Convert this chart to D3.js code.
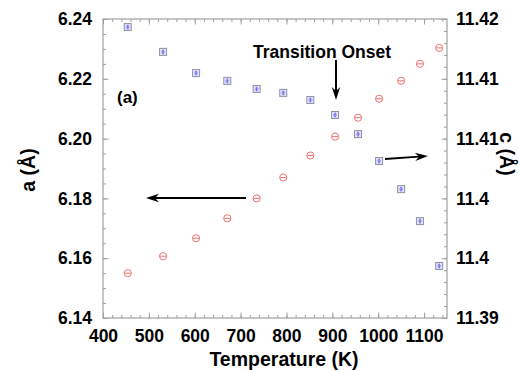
<!DOCTYPE html>
<html>
<head>
<meta charset="utf-8">
<script src="https://cdn.jsdelivr.net/npm/d3@7"></script>
<style>
  body { margin: 0; background: #fff; }
  text { font-family: "Liberation Sans", Arial, sans-serif; font-weight: bold; fill: #000; }
</style>
</head>
<body>
<svg id="chart" width="519" height="371"></svg>
<script>
// temperature (K) of each measurement
var temps = [454, 531, 603, 671, 735, 793, 852, 906, 956, 1002, 1050, 1091, 1133];
// lattice parameter a (left axis)
var aValues = [6.2373, 6.2290, 6.2219, 6.2193, 6.2166, 6.2153, 6.2129, 6.2079, 6.2015, 6.1925, 6.1831, 6.1724, 6.1574];
// lattice parameter c (right axis)
var cValues = [11.3945, 11.3962, 11.3980, 11.4000, 11.4020, 11.4041, 11.4063, 11.4082, 11.4101, 11.4120, 11.4138, 11.4155, 11.4171];

var xTicks = [400, 500, 600, 700, 800, 900, 1000, 1100];
var aTicks = [6.14, 6.16, 6.18, 6.20, 6.22, 6.24];
var cTicks = [11.39, 11.396, 11.402, 11.408, 11.414, 11.42];

var svg = d3.select("svg#chart");
var margin = { top: 19, right: 72, bottom: 53, left: 103 };
var width = +svg.attr("width") - margin.left - margin.right;
var height = +svg.attr("height") - margin.top - margin.bottom;

var g = svg.append("g")
  .attr("transform", "translate(" + margin.left + "," + margin.top + ")");

var x = d3.scaleLinear().domain([400, 1150]).range([0, width]);
var yA = d3.scaleLinear().domain([6.14, 6.24]).range([height, 0]);
var yC = d3.scaleLinear().domain([11.39, 11.42]).range([height, 0]);

var xMinor = d3.range(400, 1150, 20);
var aMinor = d3.range(0, 21).map(function(i) { return 6.14 + i * 0.005; });
var cMinor = d3.range(0, 26).map(function(i) { return 11.39 + i * 0.0012; });

var axisColor = "#a0a0a0";

function tickAxis(axisFn, scale, values, len, tx, ty) {
  var ax = g.append("g")
    .attr("class", "ticks")
    .attr("transform", "translate(" + tx + "," + ty + ")")
    .call(axisFn(scale).tickValues(values).tickSize(-len).tickFormat(""));
  ax.select(".domain").remove();
  ax.selectAll("line").attr("stroke", axisColor);
}

// frame
g.append("rect")
  .attr("width", width)
  .attr("height", height)
  .attr("fill", "none")
  .attr("stroke", axisColor)
  .attr("stroke-width", 1.2);

// minor and major ticks, pointing inward on all four sides
tickAxis(d3.axisBottom, x, xMinor, 3, 0, height);
tickAxis(d3.axisBottom, x, xTicks, 5.5, 0, height);
tickAxis(d3.axisTop, x, xMinor, 3, 0, 0);
tickAxis(d3.axisTop, x, xTicks, 5.5, 0, 0);
tickAxis(d3.axisLeft, yA, aMinor, 3, 0, 0);
tickAxis(d3.axisLeft, yA, aTicks, 5.5, 0, 0);
tickAxis(d3.axisRight, yC, cMinor, 3, width, 0);
tickAxis(d3.axisRight, yC, cTicks, 5.5, width, 0);

// tick labels
var xLab = g.append("g")
  .attr("transform", "translate(0," + height + ")")
  .call(d3.axisBottom(x).tickValues(xTicks).tickSize(0).tickPadding(12).tickFormat(d3.format("d")));
var aLab = g.append("g")
  .call(d3.axisLeft(yA).tickValues(aTicks).tickSize(0).tickPadding(11).tickFormat(d3.format(".2f")));
var cLab = g.append("g")
  .attr("transform", "translate(" + width + ",0)")
  .call(d3.axisRight(yC).tickValues(cTicks).tickSize(0).tickPadding(9).tickFormat(d3.format(".2~f")));
[xLab, aLab, cLab].forEach(function(a) {
  a.select(".domain").remove();
  a.selectAll("text")
    .attr("font-family", "'Liberation Sans', Arial, sans-serif")
    .attr("font-weight", "bold")
    .attr("font-size", 17.5)
    .attr("fill", "#000");
});

// axis titles
svg.append("text")
  .attr("x", 284)
  .attr("y", 366)
  .attr("text-anchor", "middle")
  .style("font-size", "19.5px")
  .text("Temperature (K)");

svg.append("text")
  .attr("transform", "translate(35,170) rotate(-90)")
  .attr("text-anchor", "middle")
  .style("font-size", "19.5px")
  .text("a (Å)");

svg.append("text")
  .attr("transform", "translate(500,154) rotate(90)")
  .attr("text-anchor", "middle")
  .style("font-size", "19.5px")
  .text("c (Å)");

// series a: squares with error bars
var sq = g.append("g").selectAll("g")
  .data(temps.map(function(t, i) { return [t, aValues[i]]; }))
  .enter()
  .append("g")
  .attr("transform", function(d) { return "translate(" + x(d[0]) + "," + yA(d[1]) + ")"; });
sq.append("rect")
  .attr("x", -3.5).attr("y", -3.5)
  .attr("width", 7).attr("height", 7)
  .attr("fill", "#e6e6f2")
  .attr("stroke", "#9090a8")
  .attr("stroke-width", 1);
sq.append("path")
  .attr("d", "M-2,0H2M0,-1.8V1.8M-1,-1.8H1M-1,1.8H1")
  .attr("stroke", "#5a5aff")
  .attr("stroke-width", 0.8)
  .attr("fill", "none");

// series c: circles with a bar
var ci = g.append("g").selectAll("g")
  .data(temps.map(function(t, i) { return [t, cValues[i]]; }))
  .enter()
  .append("g")
  .attr("transform", function(d) { return "translate(" + x(d[0]) + "," + yC(d[1]) + ")"; });
ci.append("circle")
  .attr("r", 3.6)
  .attr("fill", "none")
  .attr("stroke", "#ee7070")
  .attr("stroke-width", 1);
ci.append("path")
  .attr("d", "M-3,0H3")
  .attr("stroke", "#ee7070")
  .attr("stroke-width", 1);

// annotations
svg.append("text")
  .attr("x", 322)
  .attr("y", 58)
  .attr("text-anchor", "middle")
  .style("font-size", "17.5px")
  .text("Transition Onset");

svg.append("text")
  .attr("x", 117)
  .attr("y", 103)
  .style("font-size", "17px")
  .text("(a)");

function arrow(x1, y1, x2, y2) {
  var ang = Math.atan2(y2 - y1, x2 - x1);
  var len = 13, half = 4.2;
  var bx = x2 - len * Math.cos(ang), by = y2 - len * Math.sin(ang);
  var nx = -Math.sin(ang) * half, ny = Math.cos(ang) * half;
  var ix = x2 - 9 * Math.cos(ang), iy = y2 - 9 * Math.sin(ang);
  svg.append("line")
    .attr("x1", x1).attr("y1", y1).attr("x2", ix).attr("y2", iy)
    .attr("stroke", "#000").attr("stroke-width", 2);
  svg.append("path")
    .attr("d", "M" + x2 + "," + y2 + "L" + (bx + nx) + "," + (by + ny) +
      "L" + ix + "," + iy + "L" + (bx - nx) + "," + (by - ny) + "Z")
    .attr("fill", "#000");
}
arrow(336, 60, 336, 100);
arrow(246, 198, 146, 198);
arrow(385, 159, 428, 156);
</script>
</body>
</html>
